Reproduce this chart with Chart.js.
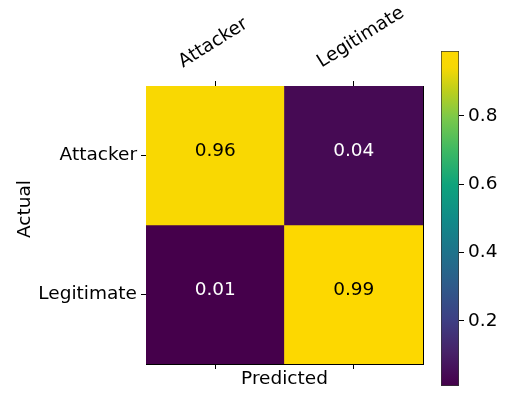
<!DOCTYPE html>
<html>
<head>
<meta charset="utf-8">
<script src="https://cdn.jsdelivr.net/npm/chart.js@4/dist/chart.umd.min.js"></script>
<style>
  html, body { margin: 0; padding: 0; background: #fff; }
  #wrap { position: relative; width: 507px; height: 401px; }
  #wrap canvas { position: absolute; top: 0; }
</style>
</head>
<body>
<div id="wrap">
  <canvas id="matrixChart" width="507" height="401" style="left:0"></canvas>
  <canvas id="colorbarChart" width="77" height="401" style="left:430px"></canvas>
</div>
<script>
/* Confusion matrix heatmap with a colour bar */

const ACTUAL = ['Attacker', 'Legitimate'];
const PREDICTED = ['Attacker', 'Legitimate'];
const ROW_ATTACKER = [0.96, 0.04];
const ROW_LEGITIMATE = [0.01, 0.99];
const MATRIX = [ROW_ATTACKER, ROW_LEGITIMATE];
const CBAR_MIN = 0.01;
const CBAR_MAX = 0.99;
const CBAR_TICKS = [0.2, 0.4, 0.6, 0.8];

const FONT = { family: 'DejaVu Sans', size: 18.5 };
const LABEL_ROTATION = 32;

// viridis-style ramp
const RAMP = [
  [0.0, '#45004b'], [0.1, '#472268'], [0.2, '#3d4084'], [0.3, '#2f5b8a'],
  [0.4, '#1e738b'], [0.5, '#108b88'], [0.6, '#0ea37c'], [0.7, '#3cb864'],
  [0.8, '#7ac94a'], [0.88, '#bccf1c'], [0.95, '#f6d804'], [1.0, '#fdd800'],
];

function hexToRgb(h) {
  const n = parseInt(h.slice(1), 16);
  return [(n >> 16) & 255, (n >> 8) & 255, n & 255];
}

function colorFor(v) {
  let t = (v - CBAR_MIN) / (CBAR_MAX - CBAR_MIN);
  t = Math.max(0, Math.min(1, t));
  for (let i = 1; i < RAMP.length; i++) {
    if (t <= RAMP[i][0]) {
      const [t0, c0] = RAMP[i - 1];
      const [t1, c1] = RAMP[i];
      const f = (t - t0) / (t1 - t0);
      const a = hexToRgb(c0), b = hexToRgb(c1);
      const rgb = a.map((x, k) => Math.round(x + (b[k] - x) * f));
      return `rgb(${rgb.join(',')})`;
    }
  }
  return RAMP[RAMP.length - 1][1];
}

const cellText = {
  id: 'cellText',
  afterDatasetsDraw(chart) {
    const { ctx } = chart;
    ctx.save();
    ctx.font = `${FONT.size}px "${FONT.family}"`;
    ctx.textAlign = 'center';
    ctx.textBaseline = 'middle';
    MATRIX.forEach((row, r) => {
      const meta = chart.getDatasetMeta(r);
      row.forEach((v, c) => {
        const bar = meta.data[c];
        const t = (v - CBAR_MIN) / (CBAR_MAX - CBAR_MIN);
        ctx.fillStyle = t > 0.5 ? '#000' : '#fff';
        ctx.fillText(v.toFixed(2), bar.x, (bar.y + bar.base) / 2 - 4);
      });
    });
    ctx.restore();
  },
};

const sideTitle = {
  id: 'sideTitle',
  afterDraw(chart) {
    const { ctx } = chart;
    ctx.save();
    ctx.font = `${FONT.size}px "${FONT.family}"`;
    ctx.fillStyle = '#000';
    ctx.textAlign = 'center';
    ctx.textBaseline = 'middle';
    ctx.translate(25, 209);
    ctx.rotate(-Math.PI / 2);
    ctx.fillText('Actual', 0, 0);
    ctx.restore();
  },
};

const edgeTicks = {
  drawOnChartArea: false,
  offset: false,
  tickLength: 5,
  color: '#000',
};

new Chart(document.getElementById('matrixChart'), {
  type: 'bar',
  data: {
    labels: PREDICTED,
    datasets: MATRIX.map((row, r) => ({
      label: ACTUAL[r],
      data: row.map(() => [r, r + 1]),
      backgroundColor: row.map(colorFor),
      borderWidth: 0,
      grouped: false,
      barPercentage: 1,
      categoryPercentage: 1,
    })),
  },
  options: {
    responsive: false,
    animation: false,
    layout: { padding: 0 },
    plugins: { legend: { display: false }, tooltip: { enabled: false } },
    scales: {
      x: {
        type: 'category',
        position: 'bottom',
        offset: true,
        grid: edgeTicks,
        border: { color: '#000', width: 1 },
        ticks: { display: false },
        title: { display: true, text: 'Predicted', color: '#000', font: FONT, padding: { top: 0, bottom: 11 } },
        afterFit: (s) => { s.height = 37; },
      },
      x2: {
        type: 'category',
        position: 'top',
        labels: PREDICTED,
        offset: true,
        grid: edgeTicks,
        border: { color: '#000', width: 1 },
        ticks: {
          color: '#000',
          font: FONT,
          minRotation: LABEL_ROTATION,
          maxRotation: LABEL_ROTATION,
          padding: 8,
          labelOffset: -23,
        },
        afterFit: (s) => { s.height = 86; },
      },
      y: {
        type: 'linear',
        position: 'left',
        min: 0,
        max: ACTUAL.length,
        reverse: true,
        grid: edgeTicks,
        border: { color: '#000', width: 1 },
        afterBuildTicks: (s) => { s.ticks = ACTUAL.map((_, i) => ({ value: i + 0.5 })); },
        ticks: {
          color: '#000',
          font: FONT,
          padding: 4,
          callback: (v) => ACTUAL[Math.floor(v)],
        },
        afterFit: (s) => { s.width = 146; },
      },
      y2: {
        type: 'linear',
        position: 'right',
        grid: { display: false },
        border: { color: '#000', width: 1 },
        ticks: { display: false },
        afterFit: (s) => { s.width = 84; },
      },
    },
  },
  plugins: [cellText, sideTitle],
});

new Chart(document.getElementById('colorbarChart'), {
  type: 'bar',
  data: {
    labels: [''],
    datasets: [{
      data: [[CBAR_MIN, CBAR_MAX]],
      backgroundColor: (c) => {
        const area = c.chart.chartArea;
        if (!area) return RAMP[0][1];
        const g = c.chart.ctx.createLinearGradient(0, area.bottom, 0, area.top);
        RAMP.forEach(([t, col]) => g.addColorStop(t, col));
        return g;
      },
      borderColor: '#333',
      borderWidth: 1,
      borderSkipped: false,
      barPercentage: 1,
      categoryPercentage: 1,
    }],
  },
  options: {
    responsive: false,
    animation: false,
    layout: { padding: { left: 11, top: 51, bottom: 2, right: 0 } },
    plugins: { legend: { display: false }, tooltip: { enabled: false } },
    scales: {
      x: { display: false },
      y: {
        position: 'right',
        min: CBAR_MIN,
        max: CBAR_MAX,
        afterBuildTicks: (s) => { s.ticks = CBAR_TICKS.map((v) => ({ value: v })); },
        grid: { drawOnChartArea: false, tickLength: 5, color: '#000' },
        border: { display: false },
        ticks: { color: '#000', font: FONT, padding: 4, callback: (v) => v.toFixed(1) },
        afterFit: (s) => { s.width = 48; },
      },
    },
  },
});
</script>
</body>
</html>
